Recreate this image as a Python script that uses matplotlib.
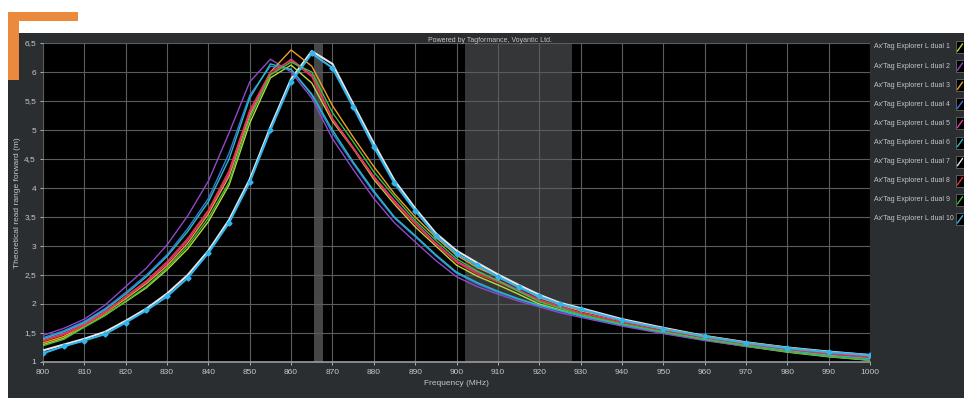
import matplotlib
matplotlib.use("Agg")
import matplotlib.pyplot as plt
from matplotlib.patches import Rectangle
from matplotlib.lines import Line2D
from matplotlib.ticker import FuncFormatter

plt.rcParams['font.family'] = ['Liberation Sans', 'DejaVu Sans']

freq = [800, 805, 810, 815, 820, 825, 830, 835, 840, 845, 850, 855, 860, 865, 870,
        875, 880, 885, 890, 895, 900, 905, 910, 915, 920, 925, 930,
        940, 950, 960, 970, 980, 990, 1000]

names = ["Ax'Tag Explorer L dual %d" % i for i in range(1, 11)]
colors = ["#bcd83a", "#9048c8", "#f0a024", "#3a78dc", "#e03ca8",
          "#26bcc4", "#e6e6e6", "#e83440", "#3cc03c", "#32b4ec"]

dual1 = [1.30, 1.41, 1.61, 1.81, 2.04, 2.28, 2.59, 2.95, 3.42, 4.05, 5.12, 5.90, 6.12, 5.81, 5.15,
         4.68, 4.15, 3.72, 3.33, 3.00, 2.67, 2.48, 2.33, 2.17, 2.00, 1.90, 1.80,
         1.64, 1.50, 1.38, 1.27, 1.17, 1.09, 1.03]
dual2 = [1.46, 1.58, 1.74, 1.98, 2.30, 2.62, 3.02, 3.52, 4.12, 4.95, 5.83, 6.22, 6.00, 5.55, 4.85,
         4.32, 3.82, 3.40, 3.07, 2.75, 2.47, 2.30, 2.17, 2.05, 1.95, 1.85, 1.77,
         1.62, 1.49, 1.37, 1.27, 1.18, 1.10, 1.04]
dual3 = [1.33, 1.44, 1.64, 1.84, 2.09, 2.35, 2.66, 3.05, 3.55, 4.20, 5.25, 6.00, 6.38, 6.10, 5.42,
         4.88, 4.37, 3.90, 3.50, 3.15, 2.84, 2.63, 2.47, 2.30, 2.11, 1.99, 1.88,
         1.72, 1.58, 1.45, 1.34, 1.25, 1.17, 1.11]
dual4 = [1.42, 1.54, 1.70, 1.92, 2.20, 2.50, 2.85, 3.30, 3.82, 4.60, 5.60, 6.10, 6.05, 5.60, 4.95,
         4.42, 3.92, 3.48, 3.16, 2.83, 2.53, 2.35, 2.20, 2.08, 1.97, 1.88, 1.79,
         1.64, 1.51, 1.39, 1.29, 1.20, 1.12, 1.06]
dual5 = [1.38, 1.49, 1.66, 1.87, 2.12, 2.38, 2.70, 3.10, 3.60, 4.25, 5.30, 5.95, 6.22, 5.95, 5.20,
         4.70, 4.20, 3.78, 3.40, 3.05, 2.74, 2.55, 2.41, 2.24, 2.07, 1.96, 1.85,
         1.70, 1.56, 1.43, 1.32, 1.23, 1.15, 1.09]
dual6 = [1.40, 1.52, 1.68, 1.90, 2.17, 2.47, 2.82, 3.25, 3.76, 4.50, 5.55, 6.14, 6.04, 5.62, 5.00,
         4.45, 3.95, 3.50, 3.18, 2.85, 2.55, 2.37, 2.22, 2.09, 1.98, 1.89, 1.80,
         1.65, 1.52, 1.40, 1.30, 1.20, 1.12, 1.06]
dual7 = [1.20, 1.30, 1.40, 1.52, 1.71, 1.92, 2.18, 2.50, 2.92, 3.45, 4.15, 5.05, 5.88, 6.36, 6.14,
         5.45, 4.77, 4.13, 3.65, 3.22, 2.92, 2.71, 2.51, 2.33, 2.16, 2.02, 1.93,
         1.74, 1.59, 1.45, 1.34, 1.25, 1.18, 1.12]
dual8 = [1.36, 1.47, 1.63, 1.85, 2.13, 2.40, 2.73, 3.13, 3.62, 4.30, 5.34, 6.00, 6.20, 5.92, 5.18,
         4.68, 4.18, 3.75, 3.38, 3.03, 2.72, 2.52, 2.38, 2.22, 2.06, 1.95, 1.84,
         1.68, 1.54, 1.42, 1.31, 1.22, 1.14, 1.08]
dual9 = [1.28, 1.39, 1.60, 1.80, 2.05, 2.30, 2.62, 3.00, 3.48, 4.10, 5.20, 5.95, 6.17, 6.00, 5.30,
         4.80, 4.28, 3.85, 3.44, 3.10, 2.78, 2.57, 2.40, 2.22, 2.04, 1.93, 1.82,
         1.66, 1.52, 1.39, 1.28, 1.18, 1.10, 1.03]
dual10 = [1.15, 1.27, 1.37, 1.48, 1.68, 1.89, 2.13, 2.45, 2.88, 3.40, 4.10, 5.00, 5.83, 6.32, 6.07,
          5.40, 4.71, 4.08, 3.61, 3.18, 2.87, 2.67, 2.47, 2.29, 2.13, 2.00, 1.91,
          1.72, 1.57, 1.44, 1.33, 1.24, 1.17, 1.12]
series = [dual1, dual2, dual3, dual4, dual5, dual6, dual7, dual8, dual9, dual10]

bands = [(865.6, 867.6), (902, 928)]
xticks = list(range(800, 1001, 10))
yticks = [1, 1.5, 2, 2.5, 3, 3.5, 4, 4.5, 5, 5.5, 6, 6.5]

W, H = 964, 398
fig = plt.figure(figsize=(W / 100, H / 100), dpi=100)
fig.patch.set_facecolor("white")

txtc = "#c4c6c8"
panel = "#2b2e31"
# dark panel
fig.patches.append(Rectangle((8 / W, 0), 1 - 8 / W, 1 - 33 / H, transform=fig.transFigure,
                             facecolor=panel, edgecolor="none", zorder=-5))

ax = fig.add_axes([43 / W, 1 - 362 / H, (870 - 43) / W, (362 - 43) / H])
ax.set_zorder(1)
ax.set_facecolor("black")
ax.set_xlim(800, 1000)
ax.set_ylim(1, 6.5)
ax.set_xticks(xticks)
ax.set_yticks(yticks)
ax.yaxis.set_major_formatter(FuncFormatter(lambda v, p: ("%g" % v).replace(".", ",")))
ax.grid(True, color="#5a5c5e", linewidth=0.8, zorder=1)
ax.tick_params(colors=txtc, labelsize=6, length=2, width=0.6, pad=3)
for s in ax.spines.values():
    s.set_visible(False)
ax.spines["bottom"].set_visible(True)
ax.spines["bottom"].set_color("#9a9c9e")
ax.spines["bottom"].set_linewidth(1.2)

ax.axvspan(bands[0][0], bands[0][1], color="#444648", zorder=1.5, lw=0)
ax.axvspan(bands[1][0], bands[1][1], color="#343638", zorder=1.5, lw=0)

order = [0, 1, 2, 3, 4, 5, 7, 8, 6, 9]
for i in order:
    lw = 1.5 if i in (6, 9) else 1.0
    if i == 9:
        ax.plot(freq, series[i], color=colors[i], lw=lw, marker="D", markersize=2.6, zorder=3)
    else:
        ax.plot(freq, series[i], color=colors[i], lw=lw, zorder=3 if i != 6 else 2.9)

ax.set_xlabel("Frequency (MHz)", color=txtc, fontsize=6, labelpad=3)
ax.set_ylabel("Theoretical read range forward (m)", color=txtc, fontsize=6, labelpad=2)

fig.text(490 / W, 1 - 40 / H, "Powered by Tagformance, Voyantic Ltd.", color=txtc,
         fontsize=5, ha="center", va="center")

# legend (manual)
for k, (nm, c) in enumerate(zip(names, colors)):
    yy = 47 + k * 19.1
    fig.text(874 / W, 1 - yy / H, nm, color=txtc, fontsize=5.0, ha="left", va="center")
    fig.patches.append(Rectangle((956 / W, 1 - (yy + 6) / H), 9 / W, 12 / H,
                                 transform=fig.transFigure, facecolor="black",
                                 edgecolor="#777", lw=0.5, zorder=2))
    fig.lines.append(Line2D([957.5 / W, 962.5 / W], [1 - (yy + 4) / H, 1 - (yy - 3) / H],
                            transform=fig.transFigure, color=c, lw=1.0, zorder=3))

# orange corner bracket
orange = "#eb8a3c"
fig.patches.append(Rectangle((8 / W, 1 - 21 / H), 70 / W, 9 / H, transform=fig.transFigure,
                             facecolor=orange, edgecolor="none", zorder=5))
fig.patches.append(Rectangle((8 / W, 1 - 80 / H), 11 / W, 68 / H, transform=fig.transFigure,
                             facecolor=orange, edgecolor="none", zorder=5))

fig.savefig("out.png", dpi=100, facecolor=fig.get_facecolor())
